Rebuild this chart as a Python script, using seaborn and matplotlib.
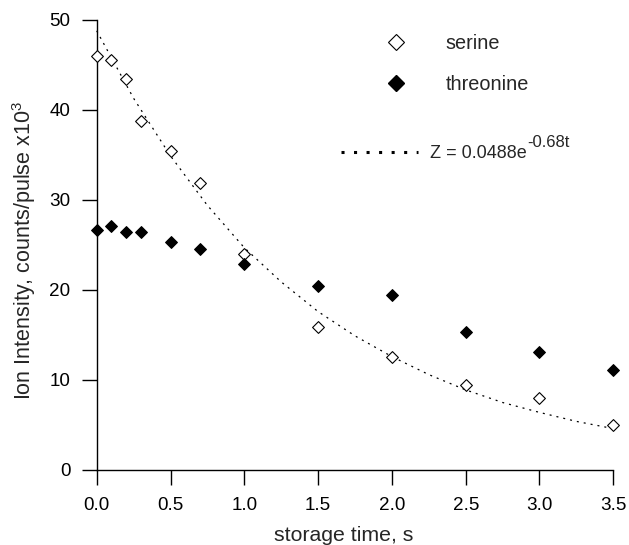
import matplotlib
matplotlib.use("Agg")
import matplotlib.pyplot as plt
from matplotlib.lines import Line2D
import seaborn as sns
import pandas as pd

# storage time (s) and ion intensity (counts/pulse x10^3)
t_points = [0.0, 0.1, 0.2, 0.3, 0.5, 0.7, 1.0, 1.5, 2.0, 2.5, 3.0, 3.5]
serine = [46.0, 45.6, 43.4, 38.8, 35.4, 31.9, 24.0, 15.9, 12.6, 9.5, 8.0, 5.0]
threonine = [26.7, 27.1, 26.4, 26.4, 25.3, 24.6, 22.9, 20.5, 19.4, 15.3, 13.1, 11.1]

# dotted fit curve
t_fit = [0.0, 0.25, 0.5, 0.75, 1.0, 1.25, 1.5, 1.75, 2.0, 2.25, 2.5, 2.75, 3.0, 3.25, 3.5]
fit_vals = [48.8, 41.3, 34.9, 29.4, 24.7, 20.9, 17.6, 14.9, 12.6, 10.6, 8.9, 7.5, 6.4, 5.4, 4.6]

x_ticks = [0.0, 0.5, 1.0, 1.5, 2.0, 2.5, 3.0, 3.5]
y_ticks = [0, 10, 20, 30, 40, 50]

sns.set_style("ticks")
plt.rcParams["font.family"] = ["Liberation Sans", "DejaVu Sans"]
plt.rcParams["mathtext.fontset"] = "custom"
plt.rcParams["mathtext.rm"] = "Liberation Sans"
plt.rcParams["mathtext.it"] = "Liberation Sans:italic"

df = pd.DataFrame({"t": t_points, "serine": serine, "threonine": threonine})
fit = pd.DataFrame({"t": t_fit, "z": fit_vals})

fig = plt.figure(figsize=(6.29, 5.45), dpi=100)
ax = fig.add_axes([96.7 / 629, 75 / 545, 516.6 / 629, 450 / 545])

sns.lineplot(data=fit, x="t", y="z", ax=ax, color="black", lw=0.9,
             linestyle=(0, (1.6, 4.0)), clip_on=False)
sns.scatterplot(data=df, x="t", y="serine", ax=ax, marker="D", s=36,
                facecolor="white", edgecolor="black", linewidth=0.8,
                clip_on=False, zorder=3)
sns.scatterplot(data=df, x="t", y="threonine", ax=ax, marker="D", s=36,
                color="black", edgecolor="black", linewidth=0.8,
                clip_on=False, zorder=3)

ax.set_xlim(0, 3.5)
ax.set_ylim(0, 50)
ax.set_xticks(x_ticks)
ax.set_xticklabels([f"{v:.1f}" for v in x_ticks])
ax.set_yticks(y_ticks)
sns.despine(ax=ax)
for s in ["left", "bottom"]:
    ax.spines[s].set_linewidth(1.0)
    ax.spines[s].set_color("black")
ax.tick_params(axis="both", direction="out", length=10.8, width=1.0,
               color="black", labelsize=13.6, labelcolor="black")
ax.tick_params(axis="y", pad=8)
ax.tick_params(axis="x", pad=9)

ax.set_xlabel("storage time, s", fontsize=15.3)
ax.xaxis.set_label_coords(0.479, -0.1234)
ax.set_ylabel(r"Ion Intensity, counts/pulse x10$^{3}$", fontsize=15.5)
ax.yaxis.set_label_coords(-0.1136, 0.487)

# legend for the data markers
marker_handles = [
    Line2D([], [], marker="D", linestyle="none", markersize=8.1,
           markerfacecolor="white", markeredgecolor="black", markeredgewidth=0.8),
    Line2D([], [], marker="D", linestyle="none", markersize=8.1,
           markerfacecolor="black", markeredgecolor="black"),
]
leg1 = ax.legend(marker_handles, ["serine", "threonine"], loc="upper left",
                 bbox_to_anchor=(386 / 629, (545 - 33.6) / 545),
                 bbox_transform=fig.transFigure, frameon=False, fontsize=14.3,
                 borderpad=0, borderaxespad=0, handlelength=1.0,
                 handletextpad=2.0, labelspacing=1.15)
ax.add_artist(leg1)

# legend for the fit curve
fit_handle = Line2D([], [], color="black", lw=2.2, linestyle=(0, (1, 3.1)))
leg2 = ax.legend([fit_handle], ["Z = 0.0488e"], loc="upper left",
                 bbox_to_anchor=(341 / 629, (545 - 145.5) / 545),
                 bbox_transform=fig.transFigure, frameon=False, fontsize=13,
                 borderpad=0, borderaxespad=0, handlelength=4.28,
                 handletextpad=0.67)
fig.canvas.draw()
ax.annotate("-0.68t", xy=(1.0, 0.9), xycoords=leg2.get_texts()[0],
            ha="left", va="baseline", fontsize=12, zorder=10)

fig.savefig("out.png", dpi=100)
